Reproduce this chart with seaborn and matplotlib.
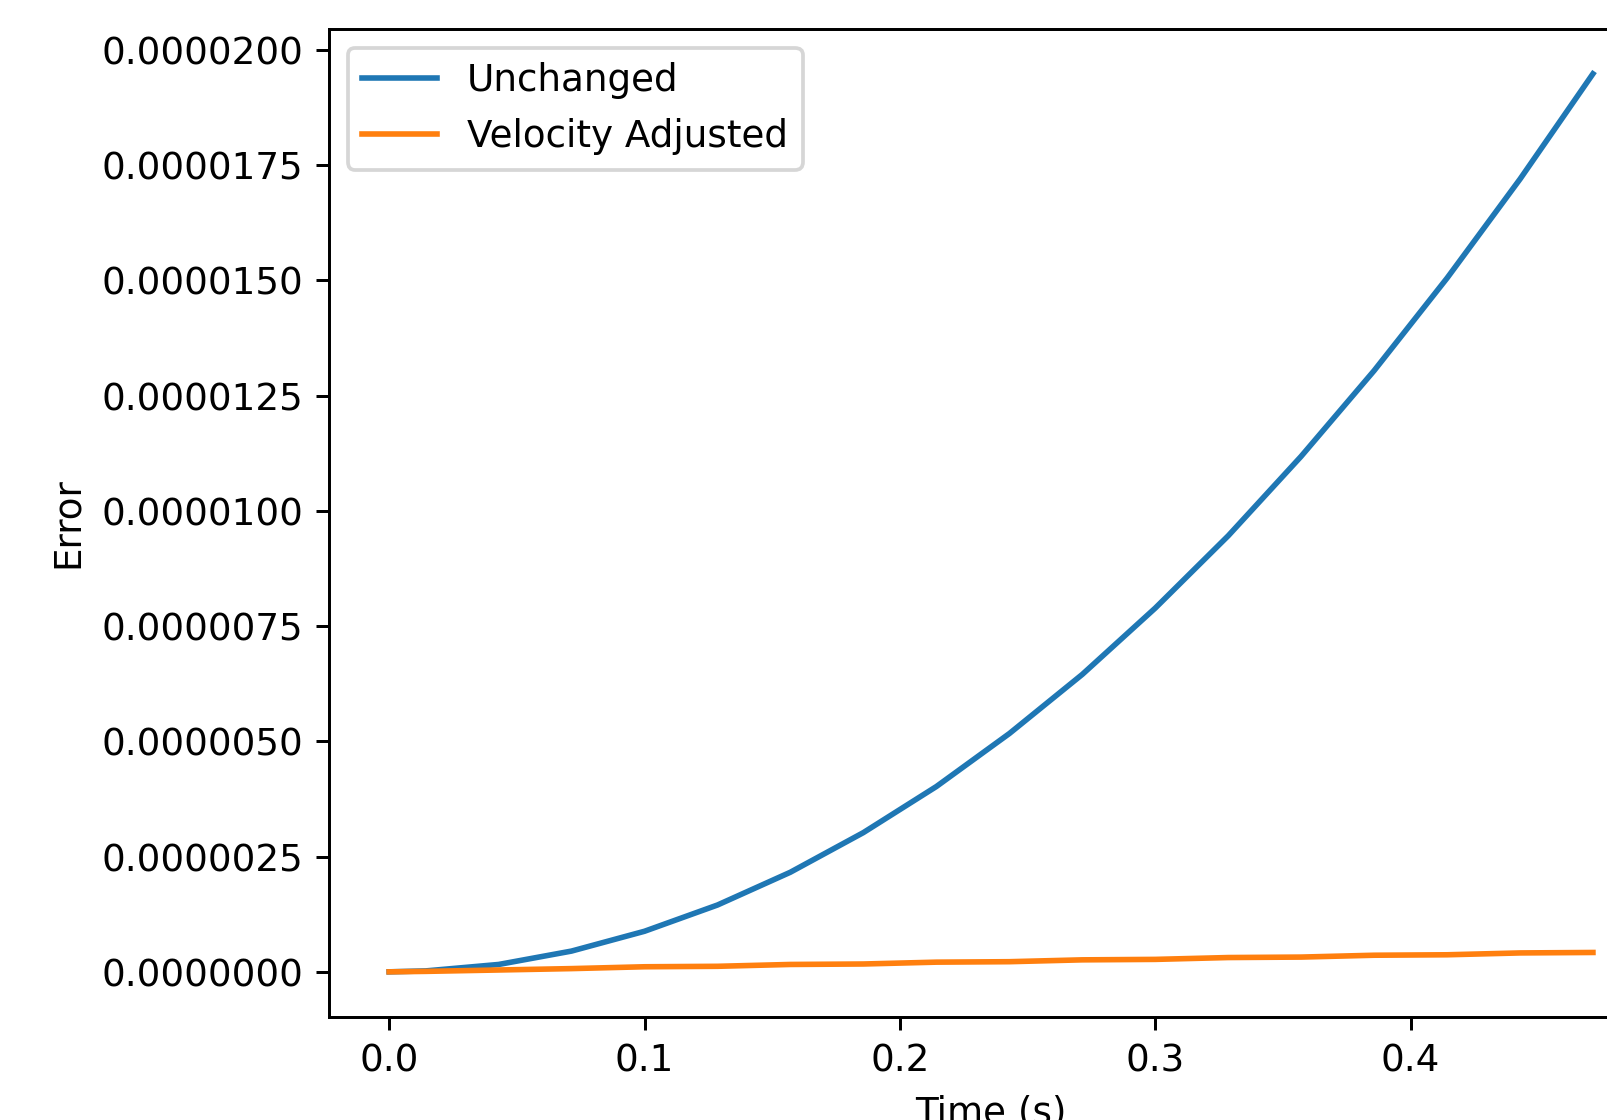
"""Error over time: unchanged vs velocity adjusted integration."""

import matplotlib
matplotlib.use("Agg")
import matplotlib.pyplot as plt
import pandas as pd
import seaborn as sns

# time samples (s)
time_s = [0.0, 0.0143, 0.0429, 0.0714, 0.1, 0.1286, 0.1571, 0.1857, 0.2143,
          0.2429, 0.2714, 0.3, 0.3286, 0.3571, 0.3857, 0.4143, 0.4429, 0.4714]

# error values (in units of 1e-6)
unchanged_e6 = [0.0, 0.02, 0.16, 0.45, 0.88, 1.45, 2.16, 3.02, 4.02,
                5.17, 6.45, 7.89, 9.46, 11.18, 13.04, 15.05, 17.20, 19.48]
adjusted_e6 = [0.0, 0.01, 0.04, 0.07, 0.11, 0.12, 0.16, 0.17, 0.21,
               0.22, 0.26, 0.27, 0.31, 0.32, 0.36, 0.37, 0.41, 0.42]

DPI = 268


def main() -> None:
    df = pd.DataFrame({
        "time": time_s,
        "unchanged": [v * 1e-6 for v in unchanged_e6],
        "adjusted": [v * 1e-6 for v in adjusted_e6],
    })

    fig = plt.figure(figsize=(1607 / DPI, 1120 / DPI), dpi=DPI)
    ax = fig.add_axes([0.2047, 0.0922, 0.824, 0.882])

    sns.lineplot(data=df, x="time", y="unchanged", ax=ax, color="#1f77b4",
                 label="Unchanged")
    sns.lineplot(data=df, x="time", y="adjusted", ax=ax, color="#ff7f0e",
                 label="Velocity Adjusted")

    ax.ticklabel_format(axis="y", style="plain", useOffset=False)
    ax.set_xlabel("Time (s)")
    ax.set_ylabel("Error")
    ax.legend(loc="upper left")

    fig.savefig("out.png", dpi=DPI)


if __name__ == "__main__":
    main()
